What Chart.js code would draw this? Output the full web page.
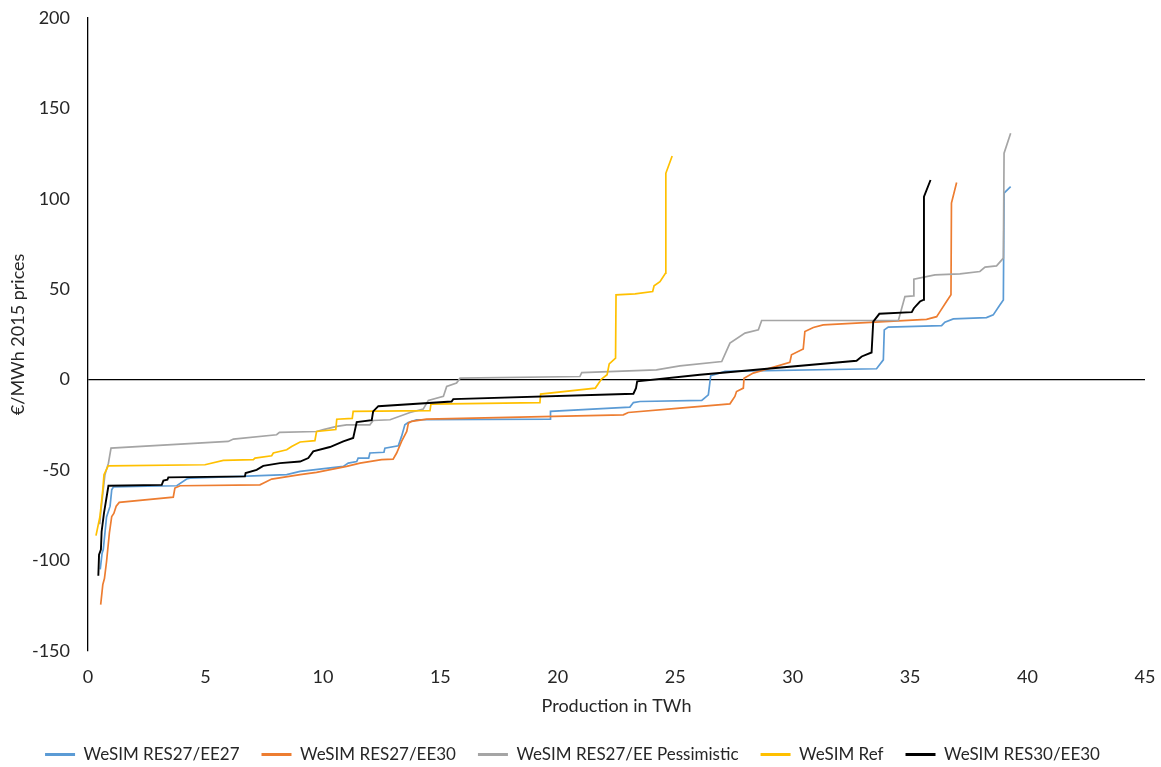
<!DOCTYPE html>
<html>
<head>
<meta charset="utf-8">
<script src="https://cdn.jsdelivr.net/npm/chart.js@4.4.1/dist/chart.umd.min.js"></script>
<style>
  html, body { margin: 0; padding: 0; background: #ffffff; }
  #wrap { width: 1161px; height: 767px; }
</style>
</head>
<body>
<div id="wrap"><canvas id="c" width="1161" height="767"></canvas></div>
<script>
// Price-duration curves: cumulative production (TWh) against price (€/MWh, 2015 prices)
const seriesNames = ['WeSIM RES27/EE27', 'WeSIM RES27/EE30', 'WeSIM RES27/EE Pessimistic', 'WeSIM Ref', 'WeSIM RES30/EE30'];
const seriesColors = ['#5B9BD5', '#ED7D31', '#A5A5A5', '#FFC000', '#000000'];

const xTicks = [0, 5, 10, 15, 20, 25, 30, 35, 40, 45];
const yTicks = [-150, -100, -50, 0, 50, 100, 150, 200];

// WeSIM RES27/EE27
const res27ee27Twh = [0.52, 0.60, 0.65, 0.79, 0.94, 1.01, 1.08, 2.5, 3.78, 4.2, 4.34, 6.5, 8.46, 9.03, 9.59, 10.87, 11.08, 11.44, 11.5, 11.95, 12.0, 12.6, 12.64, 13.21, 13.35, 13.49, 13.63, 13.99, 19.67, 19.69, 23.07, 23.22, 23.5, 26.13, 26.41, 26.51, 27.12, 33.57, 33.86, 33.9, 34.07, 36.34, 36.48, 36.84, 38.25, 38.54, 38.82, 38.97, 39.0, 39.28];
const res27ee27Price = [-105, -96, -94, -76, -70, -61, -59.4, -59, -58.7, -55, -54.5, -53.5, -52.6, -50.8, -49.9, -48, -46.2, -45.3, -43.4, -43.4, -40.6, -40.2, -37.9, -36.6, -31.4, -25, -23.7, -22.2, -21.9, -17.6, -15.2, -12.7, -12.1, -11.5, -8.4, 2.1, 4.5, 6.0, 10.9, 27.5, 29.0, 29.9, 31.8, 33.6, 34.3, 35.8, 41.3, 44.1, 103.1, 106.7];

// WeSIM RES27/EE30
const res27ee30Twh = [0.54, 0.63, 0.70, 0.79, 0.91, 1.01, 1.1, 1.2, 1.33, 3.63, 3.7, 3.92, 7.32, 7.5, 7.82, 9.03, 9.73, 11.01, 11.58, 12.5, 12.99, 13.14, 13.35, 13.57, 13.64, 13.78, 14.42, 22.79, 23.0, 25.2, 27.33, 27.54, 27.61, 27.9, 27.93, 28.32, 29.88, 29.95, 30.45, 30.52, 30.88, 31.3, 35.7, 36.13, 36.27, 36.55, 36.74, 36.76, 36.98];
const res27ee30Price = [-124.5, -113.4, -110, -100.6, -84.9, -75.7, -74, -70, -67.9, -65, -60, -58.7, -58.2, -57, -55, -52.6, -51.3, -48, -46.2, -44.3, -44, -40.6, -34.2, -28.7, -24.1, -23.1, -21.9, -19.5, -18.2, -15.8, -13.4, -9.3, -6.6, -4.7, 0.8, 3.6, 9.5, 13.7, 16.9, 26.6, 28.8, 30.3, 33.3, 34.8, 37.6, 43.2, 46.9, 97.6, 109.0];

// WeSIM RES27/EE Pessimistic
const pessimisticTwh = [0.5, 0.54, 0.72, 0.87, 0.98, 5.97, 6.19, 8.03, 8.15, 9.73, 10.02, 10.59, 11.01, 12.0, 12.14, 12.86, 13.71, 14.27, 14.49, 15.13, 15.27, 15.69, 15.84, 20.94, 21.02, 24.2, 25.2, 26.98, 27.33, 27.97, 28.54, 28.68, 34.5, 34.78, 35.14, 35.16, 36.06, 37.12, 37.97, 38.19, 38.68, 38.97, 39.0, 39.28];
const pessimisticPrice = [-80, -73.8, -52.6, -46.2, -37.9, -34.2, -32.9, -30.5, -29.2, -28.7, -27.7, -25.9, -25.0, -25.0, -22.6, -22.2, -18.2, -16.3, -11.5, -9.3, -3.8, -1.9, 0.8, 1.7, 3.9, 5.4, 7.6, 10.0, 20.2, 25.7, 27.5, 32.7, 32.7, 45.9, 46.3, 55.6, 57.9, 58.5, 59.8, 62.2, 62.9, 67.2, 125.2, 136.3];

// WeSIM Ref
const refTwh = [0.34, 0.51, 0.63, 0.68, 0.86, 4.98, 5.76, 7.04, 7.11, 7.82, 7.89, 8.46, 8.67, 9.03, 9.66, 9.73, 10.55, 10.59, 11.25, 11.29, 14.56, 14.6, 19.24, 19.27, 21.6, 21.86, 22.1, 22.19, 22.46, 22.48, 23.29, 24.04, 24.1, 24.35, 24.59, 24.6, 24.87];
const refPrice = [-86.3, -75.7, -60.9, -52.6, -47.7, -47.1, -44.7, -44.3, -43.4, -42.1, -40.6, -38.8, -37.0, -34.5, -33.8, -28.7, -27.6, -21.9, -21.5, -17.6, -17.2, -13.6, -12.7, -8.0, -4.7, 0.3, 2.7, 8.7, 11.9, 46.9, 47.4, 48.7, 51.9, 54.2, 58.9, 114.1, 123.7];

// WeSIM RES30/EE30
const res30ee30Twh = [0.44, 0.47, 0.55, 0.58, 0.68, 0.75, 0.87, 3.14, 3.21, 3.38, 3.42, 6.68, 6.71, 7.18, 7.46, 8.17, 9.03, 9.38, 9.59, 10.3, 10.87, 11.29, 11.44, 12.08, 12.14, 12.36, 15.48, 15.55, 23.22, 23.33, 23.38, 26.05, 32.72, 32.94, 33.36, 33.43, 33.69, 35.07, 35.16, 35.42, 35.56, 35.59, 35.87];
const res30ee30Price = [-108.5, -96.8, -94, -84, -73.8, -68.3, -58.7, -58.2, -55.9, -55.4, -54.1, -53.5, -51.7, -49.9, -47.7, -46.2, -45.3, -43.4, -39.7, -37.3, -34.2, -32.3, -23.5, -22.4, -17.6, -14.7, -12.1, -10.8, -7.8, -4.7, -1.0, 2.7, 10.4, 12.8, 15.0, 32.1, 36.4, 37.3, 39.5, 43.2, 44.1, 101.2, 110.4];

const xsList = [res27ee27Twh, res27ee30Twh, pessimisticTwh, refTwh, res30ee30Twh];
const ysList = [res27ee27Price, res27ee30Price, pessimisticPrice, refPrice, res30ee30Price];
const lineWidths = [1.7, 1.7, 1.7, 1.7, 1.9];
const drawOrder = [5, 4, 3, 2, 1];

const FONT = 'Lato';
const TEXT = '#262626';

const datasets = seriesNames.map((name, i) => ({
  label: name,
  data: xsList[i].map((x, k) => ({ x: x, y: ysList[i][k] })),
  borderColor: seriesColors[i],
  backgroundColor: seriesColors[i],
  borderWidth: lineWidths[i],
  pointRadius: 0,
  pointHoverRadius: 0,
  tension: 0,
  fill: false,
  order: drawOrder[i]
}));

new Chart(document.getElementById('c'), {
  type: 'line',
  data: { datasets: datasets },
  options: {
    responsive: false,
    animation: false,
    devicePixelRatio: 1,
    layout: { padding: { top: 18, right: 16, bottom: 0, left: 0 } },
    plugins: {
      tooltip: { enabled: false },
      legend: {
        position: 'bottom',
        maxHeight: 43,
        labels: {
          boxWidth: 30,
          boxHeight: 3,
          padding: 22,
          color: TEXT,
          font: { family: FONT, size: 17 },
          sort: (a, b) => a.datasetIndex - b.datasetIndex,
          generateLabels: (chart) => {
            const items = Chart.defaults.plugins.legend.labels.generateLabels(chart);
            return items.map(it => Object.assign(it, { lineWidth: 0, fillStyle: it.strokeStyle }));
          }
        }
      }
    },
    scales: {
      x: {
        type: 'linear',
        min: 0,
        max: 45,
        afterBuildTicks: (s) => { s.ticks = xTicks.map(v => ({ value: v })); },
        afterFit: (s) => { s.paddingLeft = 0; s.paddingRight = 0; },
        grid: { display: false, drawTicks: false },
        border: { display: false },
        ticks: { color: TEXT, font: { family: FONT, size: 18 }, padding: 16, maxRotation: 0 },
        title: {
          display: true,
          text: 'Production in TWh',
          color: TEXT,
          font: { family: FONT, size: 18 },
          padding: { top: -9, bottom: 7 }
        }
      },
      y: {
        type: 'linear',
        min: -150,
        max: 200,
        afterBuildTicks: (s) => { s.ticks = yTicks.map(v => ({ value: v })); },
        afterFit: (s) => { s.width = 88; s.paddingTop = 0; s.paddingBottom = 0; },
        grid: {
          drawTicks: false,
          color: (c) => (c.tick && c.tick.value === 0 ? '#000000' : 'rgba(0,0,0,0)'),
          lineWidth: 1.3
        },
        border: { display: true, color: '#000000', width: 1.3 },
        ticks: { color: TEXT, font: { family: FONT, size: 18 }, padding: 18 },
        title: {
          display: true,
          text: '€/MWh 2015 prices',
          color: TEXT,
          font: { family: FONT, size: 18 },
          padding: { top: 7, bottom: 0 }
        }
      }
    }
  }
});
</script>
</body>
</html>
